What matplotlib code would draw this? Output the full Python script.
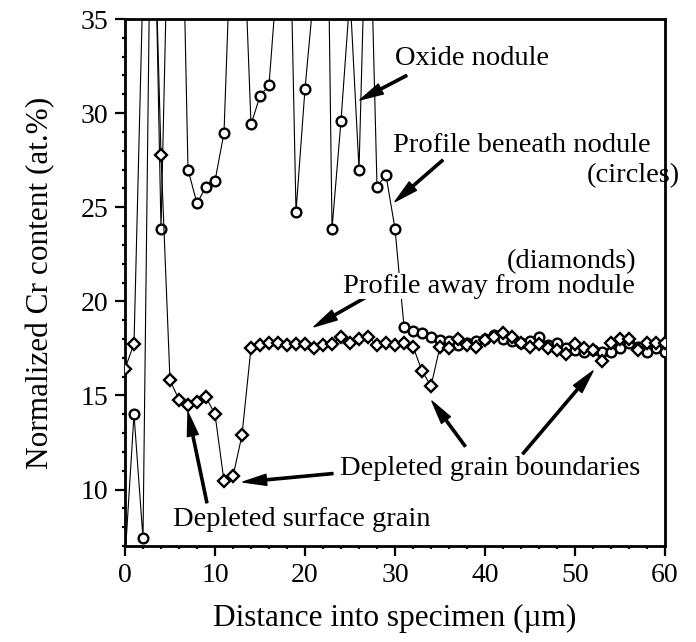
import matplotlib
matplotlib.use("Agg")
import matplotlib.pyplot as plt
from matplotlib.ticker import MultipleLocator

plt.rcParams['font.family'] = ['Liberation Serif', 'DejaVu Serif']

# Distance into specimen (um)
x_circles = list(range(0, 61))
circles = [6.3, 14.0, 7.4, 48.0, 23.85, 45.0, 50.0, 27.0, 25.2, 26.1,
           26.4, 28.95, 42.5, 42.0, 29.4, 30.9, 31.5, 37.8, 48.0, 24.75,
           31.3, 36.5, 60.0, 23.85, 29.6, 36.3, 27.0, 45.0, 26.1, 26.7,
           23.85, 18.65, 18.4, 18.3, 18.1, 17.96, 17.9, 17.7, 17.8, 17.9,
           18.0, 18.2, 18.0, 17.9, 17.8, 17.9, 18.1, 17.7, 17.8, 17.5,
           17.4, 17.3, 17.4, 17.3, 17.3, 17.5, 17.8, 17.6, 17.3, 17.5,
           17.3]

x_diamonds = list(range(0, 61))
diamonds = [16.42, 17.75, 37.0, 45.0, 27.78, 15.8, 14.78, 14.5, 14.67, 14.9,
            14.0, 10.45, 10.7, 12.9, 17.54, 17.70, 17.80, 17.80, 17.70, 17.75,
            17.75, 17.54, 17.70, 17.75, 18.1, 17.8, 18.0, 18.1, 17.7, 17.8,
            17.7, 17.8, 17.6, 16.3, 15.5, 17.6, 17.5, 18.0, 17.7, 17.6,
            17.96, 18.1, 18.3, 18.1, 17.8, 17.6, 17.75, 17.5, 17.4, 17.2,
            17.75, 17.5, 17.4, 16.85, 17.8, 18.0, 18.0, 17.4, 17.8, 17.8,
            17.8]

x_ticks = [0, 10, 20, 30, 40, 50, 60]
y_ticks = [10, 15, 20, 25, 30, 35]

fig = plt.figure(figsize=(6.96, 6.42), dpi=100)
ax = fig.add_axes([0.1796, 0.1495, 0.7759, 0.8209])

ax.plot(x_circles, circles, color='black', lw=0.8, marker='o', ms=7,
        mfc='white', mec='black', mew=1.7, zorder=3)
ax.plot(x_diamonds, diamonds, color='black', lw=0.8, marker='D', ms=6.6,
        mfc='white', mec='black', mew=1.7, zorder=4)

ax.set_xlim(0, 60)
ax.set_ylim(7, 35)
ax.set_xticks(x_ticks)
ax.set_yticks(y_ticks)
ax.xaxis.set_minor_locator(MultipleLocator(2))
ax.yaxis.set_minor_locator(MultipleLocator(1))
ax.tick_params(which='major', direction='out', length=7, width=1.6,
               labelsize=20, pad=5)
ax.tick_params(which='minor', direction='out', length=2.5, width=1.6)
ax.tick_params(top=False, right=False, which='both')
for s in ax.spines.values():
    s.set_linewidth(2.0)

ax.set_xlabel('Distance into specimen (µm)', fontsize=22.5, labelpad=12)
ax.set_ylabel('Normalized Cr content (at.%)', fontsize=22.5, labelpad=18)

fs = 20.5
aprops = dict(facecolor='black', edgecolor='black', width=1.6,
              headwidth=8, headlength=17, shrink=0)

ax.text(30.0, 32.9, 'Oxide nodule', fontsize=fs, va='center', ha='left',
        zorder=6)
ax.annotate('', xy=(26.1, 30.7), xytext=(31.3, 32.0), arrowprops=aprops)

ax.text(29.8, 28.3, 'Profile beneath nodule', fontsize=fs, va='center',
        ha='left', clip_on=False, zorder=6)
ax.text(61.6, 26.7, '(circles)', fontsize=fs, va='center', ha='right',
        clip_on=False, zorder=6)
ax.annotate('', xy=(30.0, 25.3), xytext=(35.3, 27.5), arrowprops=aprops)

ax.text(56.8, 22.1, '(diamonds)', fontsize=fs, va='center', ha='right',
        zorder=6)
ax.text(24.2, 20.8, 'Profile away from nodule', fontsize=fs, va='center',
        ha='left', zorder=5,
        bbox=dict(facecolor='white', edgecolor='none', pad=0.2))
ax.annotate('', xy=(21.0, 18.65), xytext=(26.7, 20.2), arrowprops=aprops)

ax.text(23.9, 11.1, 'Depleted grain boundaries', fontsize=fs, va='center',
        ha='left', zorder=6)
ax.annotate('', xy=(13.1, 10.4), xytext=(23.1, 10.85), arrowprops=aprops)
ax.annotate('', xy=(34.1, 14.7), xytext=(37.8, 12.3), arrowprops=aprops)
ax.annotate('', xy=(52.0, 16.3), xytext=(44.2, 11.9), arrowprops=aprops)

ax.text(5.3, 8.4, 'Depleted surface grain', fontsize=fs, va='center',
        ha='left', zorder=6)
ax.annotate('', xy=(7.0, 14.1), xytext=(9.1, 9.3), arrowprops=aprops)

fig.savefig('out.png', dpi=100)
